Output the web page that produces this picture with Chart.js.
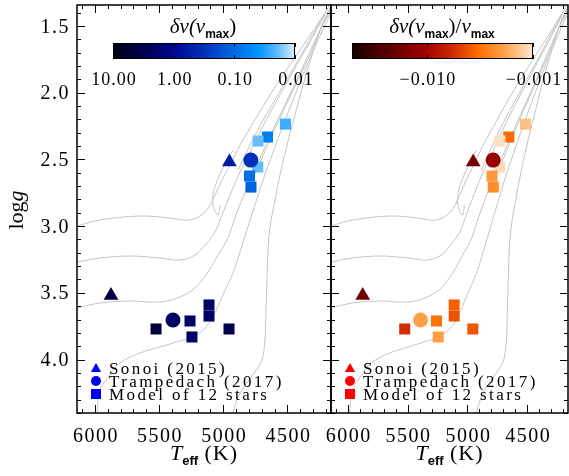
<!DOCTYPE html>
<html>
<head>
<meta charset="utf-8">
<script src="https://cdn.jsdelivr.net/npm/chart.js@4.4.1/dist/chart.umd.min.js"></script>
<style>
  html, body { margin: 0; padding: 0; background: #fff; }
  #wrap { position: relative; width: 569px; height: 476px; overflow: hidden; }
  canvas { position: absolute; top: 0; }
</style>
</head>
<body>
<div id="wrap">
  <canvas id="leftChart" width="333" height="476" style="left:0"></canvas>
  <canvas id="rightChart" width="269" height="476" style="left:300px"></canvas>
</div>
<script>
// axis ranges and ticks
const teffRange = [4160, 6140];
const loggRange = [1.342, 4.401];
const xTickValues = [6000, 5500, 5000, 4500];
const yTickValues = [1.5, 2.0, 2.5, 3.0, 3.5, 4.0];
const yTickLabels = ['1.5', '2.0', '2.5', '3.0', '3.5', '4.0'];

// stars: [subgiant-ish, red giant]
const sonoiTeff = [5875, 4952];
const sonoiLogg = [3.52, 2.52];
const trampTeff = [5392, 4785];
const trampLogg = [3.704, 2.505];
const modelTeff = [5524, 5259, 5244, 5111, 5111, 4955, 4515, 4655, 4729, 4731, 4795, 4784];
const modelLogg = [3.771, 3.711, 3.831, 3.591, 3.674, 3.771, 2.235, 2.332, 2.362, 2.557, 2.624, 2.707];

// colour-coded quantities
const sonoiDnu = [4.19, 0.589];
const trampDnu = [2.26, 0.316];
const modelDnu = [4.55, 2.04, 2.04, 2.04, 2.04, 3.07, 0.0252, 0.0646, 0.0186, 0.0193, 0.0875, 0.120];
const sonoiRel = [-0.0183, -0.0163];
const trampRel = [-0.00188, -0.0114];
const modelRel = [-0.00564, -0.00313, -0.00195, -0.00366, -0.00404, -0.00396, -0.00142, -0.00338, -0.00108, -0.00113, -0.00203, -0.00237];

const legendLabels = ['Sonoi (2015)', 'Trampedach (2017)', 'Model of 12 stars'];
const cbarLeftTicks = [10, 1, 0.1, 0.01];
const cbarLeftLabels = ['10.00', '1.00', '0.10', '0.01'];
const cbarRightTicks = [-0.010, -0.001];
const cbarRightLabels = ['\u22120.010', '\u22120.001'];

// evolutionary tracks (grey)
const track1Teff = [6140, 5961, 5649, 5415, 5259, 5142, 5064, 5010, 4947, 4869, 4753, 4636, 4519, 4402, 4285, 4183];
const track1Logg = [2.999, 2.954, 2.924, 2.939, 2.954, 2.894, 2.767, 2.654, 2.542, 2.392, 2.205, 2.017, 1.845, 1.680, 1.515, 1.365];
const track2Teff = [6140, 5961, 5727, 5493, 5337, 5220, 5142, 5064, 5010, 4947, 4869, 4776, 4675, 4558, 4441, 4324, 4207];
const track2Logg = [3.269, 3.239, 3.224, 3.239, 3.254, 3.217, 3.142, 3.044, 2.917, 2.767, 2.594, 2.415, 2.220, 2.017, 1.815, 1.620, 1.417];
const track3Teff = [6140, 5961, 5727, 5493, 5337, 5220, 5119, 5041, 4971, 4901, 4823, 4737, 4651, 4558, 4456, 4355, 4246, 4168];
const track3Logg = [3.614, 3.576, 3.561, 3.569, 3.531, 3.464, 3.344, 3.217, 3.104, 2.917, 2.729, 2.542, 2.355, 2.167, 1.965, 1.755, 1.530, 1.395];
const track4Teff = [5984, 5961, 5883, 5805, 5649, 5493, 5337, 5236, 5142, 5080, 5010, 4924, 4869, 4815, 4753, 4690, 4620, 4542, 4456, 4363, 4261, 4168];
const track4Logg = [4.401, 4.229, 4.116, 4.026, 3.951, 3.906, 3.861, 3.831, 3.764, 3.681, 3.531, 3.352, 3.194, 3.029, 2.842, 2.654, 2.467, 2.265, 2.055, 1.830, 1.605, 1.417];
const track5Teff = [4924, 4893, 4830, 4753, 4698, 4675, 4667, 4659, 4651, 4636, 4597, 4558, 4503, 4441, 4378, 4308, 4230, 4168];
const track5Logg = [4.401, 4.303, 4.191, 4.094, 4.004, 3.854, 3.629, 3.404, 3.179, 3.014, 2.804, 2.617, 2.392, 2.167, 1.942, 1.717, 1.492, 1.365];
const clumpTeff = [4924, 5010, 5072, 5080, 5041, 5025];
const clumpLogg = [2.429, 2.580, 2.729, 2.842, 2.917, 2.842];
const rgbATeff = [4885, 4791, 4698, 4589, 4480, 4363, 4261, 4168];
const rgbALogg = [2.580, 2.392, 2.220, 2.040, 1.860, 1.665, 1.492, 1.342];
const rgbBTeff = [4776, 4698, 4612, 4511, 4410, 4308, 4215, 4168];
const rgbBLogg = [2.654, 2.490, 2.302, 2.092, 1.890, 1.680, 1.470, 1.380];

const tracks = [
  [track1Teff, track1Logg], [track2Teff, track2Logg], [track3Teff, track3Logg],
  [track4Teff, track4Logg], [track5Teff, track5Logg], [clumpTeff, clumpLogg],
  [rgbATeff, rgbALogg], [rgbBTeff, rgbBLogg]
];

// colour maps
const blueStops = [[0, [0, 0, 20]], [0.2, [0, 0, 90]], [0.35, [0, 10, 150]], [0.5, [0, 50, 185]],
  [0.65, [0, 100, 225]], [0.8, [0, 150, 255]], [0.9, [90, 185, 255]], [1, [220, 238, 255]]];
const redStops = [[0, [25, 0, 0]], [0.2, [90, 0, 0]], [0.4, [160, 0, 0]], [0.55, [205, 40, 0]],
  [0.7, [255, 110, 0]], [0.85, [255, 165, 80]], [1, [255, 232, 210]]];

const lerpColor = (stops, t) => {
  t = Math.max(0, Math.min(1, t));
  for (let i = 1; i < stops.length; i++) {
    if (t <= stops[i][0]) {
      const [t0, c0] = stops[i - 1], [t1, c1] = stops[i];
      const f = (t - t0) / (t1 - t0);
      const c = c0.map((v, k) => Math.round(v + (c1[k] - v) * f));
      return `rgb(${c[0]},${c[1]},${c[2]})`;
    }
  }
  const c = stops[stops.length - 1][1];
  return `rgb(${c[0]},${c[1]},${c[2]})`;
};
// position along each colour bar (0 = left end, 1 = right end)
const blueT = v => (1 - Math.log10(v)) / 3;
const redT = v => (Math.log10(-v) + 1.2935) / -1.7065;

const SERIF = "'Liberation Serif', 'Times New Roman', serif";
const SANS = "'Liberation Sans', Arial, sans-serif";

// draws a run of text pieces, centred on cx
const drawRich = (ctx, parts, cx, baseline) => {
  let w = 0;
  parts.forEach(p => { ctx.font = p.font; ctx.letterSpacing = p.ls || '0px'; p.w = ctx.measureText(p.t).width; w += p.w; });
  let x = cx - w / 2;
  parts.forEach(p => {
    ctx.font = p.font; ctx.letterSpacing = p.ls || '0px';
    ctx.fillText(p.t, x, baseline + (p.dy || 0));
    x += p.w;
  });
};

const drawMarker = (ctx, style, x, y, r) => {
  ctx.beginPath();
  if (style === 'triangle') {
    ctx.moveTo(x, y - r);
    ctx.lineTo(x + r * 0.866, y + r * 0.5);
    ctx.lineTo(x - r * 0.866, y + r * 0.5);
    ctx.closePath();
  } else if (style === 'circle') {
    ctx.arc(x, y, r, 0, Math.PI * 2);
  } else {
    ctx.rect(x - r, y - r, 2 * r, 2 * r);
  }
  ctx.fill();
};

const framePlugin = {
  id: 'frame',
  afterDraw(chart, args, opts) {
    const { ctx, chartArea: a, scales: { x, y } } = chart;
    ctx.save();
    ctx.strokeStyle = '#000';
    ctx.lineWidth = 1.5;
    ctx.strokeRect(a.left, a.top, a.right - a.left, a.bottom - a.top);
    ctx.lineWidth = 1;
    ctx.beginPath();
    for (let v = 4200; v <= 6100; v += 100) {
      const px = Math.round(x.getPixelForValue(v)) + 0.5;
      const len = v % 500 === 0 ? 8 : 4;
      ctx.moveTo(px, a.bottom); ctx.lineTo(px, a.bottom - len);
      ctx.moveTo(px, a.top); ctx.lineTo(px, a.top + len);
    }
    for (let i = 14; i <= 44; i++) {
      const py = Math.round(y.getPixelForValue(i / 10)) + 0.5;
      const len = i % 5 === 0 ? 8 : 4;
      ctx.moveTo(a.left, py); ctx.lineTo(a.left + len, py);
      ctx.moveTo(a.right, py); ctx.lineTo(a.right - len, py);
    }
    ctx.stroke();

    ctx.fillStyle = '#000';
    ctx.textAlign = 'center';
    ctx.font = `20px ${SERIF}`;
    ctx.letterSpacing = '1.5px';
    xTickValues.forEach(v => ctx.fillText(String(v), x.getPixelForValue(v) + 1, 442));
    if (opts.yLabels) {
      ctx.textAlign = 'right';
      yTickValues.forEach((v, i) => ctx.fillText(yTickLabels[i], 70, y.getPixelForValue(v) + 6.5));
      ctx.save();
      ctx.translate(23, 210);
      ctx.rotate(-Math.PI / 2);
      ctx.textAlign = 'left';
      drawRich(ctx, [{ t: 'log', font: `22px ${SERIF}` }, { t: 'g', font: `italic 22px ${SERIF}` }], 0, 0);
      ctx.restore();
    }
    ctx.textAlign = 'left';
    drawRich(ctx, [
      { t: 'T', font: `italic 22px ${SERIF}` },
      { t: 'eff', font: `bold 13px ${SANS}`, dy: 5 },
      { t: ' (K)', font: `22px ${SERIF}`, ls: '1px' }
    ], (a.left + a.right) / 2, 460);

    // legend
    const lx = a.left + 19, tx = a.left + 32;
    const rows = [368, 381, 394];
    ctx.fillStyle = opts.legendColor;
    drawMarker(ctx, 'triangle', lx, rows[0] + 1, 6);
    drawMarker(ctx, 'circle', lx, rows[1], 5);
    drawMarker(ctx, 'rect', lx, rows[2], 5);
    ctx.fillStyle = '#000';
    ctx.font = `17px ${SERIF}`;
    ctx.letterSpacing = '2.4px';
    legendLabels.forEach((t, i) => ctx.fillText(t, tx, rows[i] + 6));
    ctx.restore();
  }
};

const colorbarPlugin = {
  id: 'colorbar',
  afterDatasetsDraw(chart, args, opts) {
    const { ctx } = chart;
    const { x0, x1, y0, y1 } = opts.box;
    ctx.save();
    const g = ctx.createLinearGradient(x0, 0, x1, 0);
    opts.stops.forEach(([t, c]) => g.addColorStop(t, `rgb(${c[0]},${c[1]},${c[2]})`));
    ctx.fillStyle = g;
    ctx.fillRect(x0, y0, x1 - x0, y1 - y0);
    ctx.strokeStyle = '#000';
    ctx.lineWidth = 1;
    ctx.strokeRect(x0 + 0.5, y0 + 0.5, x1 - x0 - 1, y1 - y0 - 1);
    ctx.beginPath();
    opts.ticks.forEach(v => {
      const px = Math.round(x0 + opts.pos(v) * (x1 - x0)) + 0.5;
      ctx.moveTo(px, y1); ctx.lineTo(px, y1 - 4);
      ctx.moveTo(px, y0); ctx.lineTo(px, y0 + 4);
    });
    ctx.stroke();
    ctx.fillStyle = '#000';
    ctx.textAlign = 'center';
    ctx.font = `18px ${SERIF}`;
    ctx.letterSpacing = '1px';
    opts.ticks.forEach((v, i) => ctx.fillText(opts.labels[i], x0 + opts.pos(v) * (x1 - x0) + 1, 85));
    ctx.textAlign = 'left';
    drawRich(ctx, opts.title, opts.titleX, 33);
    ctx.restore();
  }
};

const buildDatasets = (colorFor, sonoiV, trampV, modelV) => {
  const pts = (xs, ys) => xs.map((v, i) => ({ x: v, y: ys[i] }));
  const sets = [
    { data: pts(sonoiTeff, sonoiLogg), pointStyle: 'triangle', pointRadius: 8.5, backgroundColor: sonoiV.map(colorFor) },
    { data: pts(trampTeff, trampLogg), pointStyle: 'circle', pointRadius: 7.5, backgroundColor: trampV.map(colorFor) },
    { data: pts(modelTeff, modelLogg), pointStyle: 'rect', pointRadius: 7.8, backgroundColor: modelV.map(colorFor) }
  ].map(d => Object.assign(d, { type: 'scatter', borderWidth: 0, pointBorderWidth: 0, order: 0 }));
  tracks.forEach(([tx, ty]) => sets.push({
    type: 'line', data: pts(tx, ty), borderColor: '#c4c4c4', borderWidth: 1,
    pointRadius: 0, tension: 0.35, fill: false, order: 1
  }));
  return sets;
};

const makeChart = (id, datasets, padding, frameOpts, cbarOpts) => new Chart(document.getElementById(id), {
  data: { datasets },
  options: {
    responsive: false,
    devicePixelRatio: 1,
    animation: false,
    layout: { padding, autoPadding: false },
    plugins: { legend: { display: false }, tooltip: { enabled: false }, frame: frameOpts, colorbar: cbarOpts },
    scales: {
      x: { type: 'linear', reverse: true, min: teffRange[0], max: teffRange[1], display: false },
      y: { type: 'linear', reverse: true, min: loggRange[0], max: loggRange[1], display: false }
    }
  },
  plugins: [colorbarPlugin, framePlugin]
});

const subMax = { t: 'max', font: `bold 12px ${SANS}`, dy: 5 };

makeChart('leftChart',
  buildDatasets(v => lerpColor(blueStops, blueT(v)), sonoiDnu, trampDnu, modelDnu),
  { left: 77, top: 5, right: 2, bottom: 63 },
  { yLabels: true, legendColor: '#0000ff' },
  {
    box: { x0: 113, x1: 295, y0: 43, y1: 59 }, stops: blueStops, ticks: cbarLeftTicks, labels: cbarLeftLabels, pos: blueT,
    titleX: 203,
    title: [{ t: '\u03b4\u03bd(\u03bd', font: `italic 21px ${SERIF}` }, subMax, { t: ')', font: `21px ${SERIF}` }]
  });

makeChart('rightChart',
  buildDatasets(v => lerpColor(redStops, redT(v)), sonoiRel, trampRel, modelRel),
  { left: 31, top: 5, right: 1, bottom: 63 },
  { yLabels: false, legendColor: '#ff0000' },
  {
    box: { x0: 52, x1: 233, y0: 43, y1: 59 }, stops: redStops, ticks: cbarRightTicks, labels: cbarRightLabels, pos: redT,
    titleX: 142,
    title: [{ t: '\u03b4\u03bd(\u03bd', font: `italic 21px ${SERIF}` }, subMax, { t: ')/', font: `21px ${SERIF}` },
      { t: '\u03bd', font: `italic 21px ${SERIF}` }, subMax]
  });
</script>
</body>
</html>
